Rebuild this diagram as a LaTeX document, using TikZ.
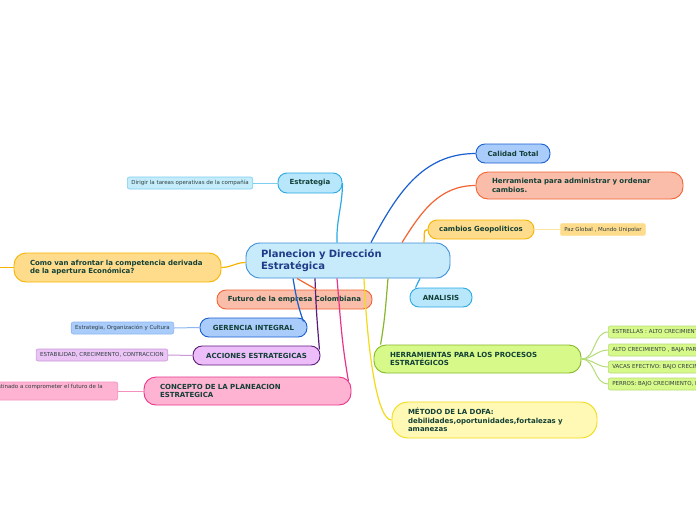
\documentclass[tikz,border=0pt]{standalone}
\usepackage{fontspec}
\setmainfont{DejaVu Sans}
\usetikzlibrary{calc}
\definecolor{txt}{HTML}{123F36}
\definecolor{ctxt}{HTML}{1F3C88}
\definecolor{leaftxt}{HTML}{2E3E40}
\definecolor{cfill}{HTML}{C8EBFB}
\definecolor{cdraw}{HTML}{3D8FD8}
\definecolor{lbfill}{HTML}{B8E6FA}
\definecolor{lbdraw}{HTML}{2AAAE6}
\definecolor{lbleaf}{HTML}{C4ECFB}
\definecolor{lblink}{HTML}{7FCDF0}
\definecolor{bfill}{HTML}{A9CCFB}
\definecolor{bdraw}{HTML}{1A5FD0}
\definecolor{blink}{HTML}{8DB6F2}
\definecolor{ofill}{HTML}{FEDC8C}
\definecolor{odraw}{HTML}{F7B500}
\definecolor{olink}{HTML}{FCE3A6}
\definecolor{sfill}{HTML}{F9BDA9}
\definecolor{sdraw}{HTML}{F26433}
\definecolor{vfill}{HTML}{EDBDF9}
\definecolor{vdraw}{HTML}{5B1C7C}
\definecolor{vleaf}{HTML}{EBC3F5}
\definecolor{vlink}{HTML}{C898D8}
\definecolor{pfill}{HTML}{FFB3D3}
\definecolor{pdraw}{HTML}{E8358A}
\definecolor{plink}{HTML}{F58FBE}
\definecolor{gfill}{HTML}{D6F989}
\definecolor{gdraw}{HTML}{86B82A}
\definecolor{glink}{HTML}{B5DC78}
\definecolor{yfill}{HTML}{FFF9B5}
\definecolor{ydraw}{HTML}{F2DB16}
\tikzset{
  mainbox/.style={draw, line width=0.9pt, inner sep=0pt, text=txt, align=center,
    font=\bfseries\fontsize{7}{8.5}\selectfont},
  leafbox/.style={draw, line width=0.6pt, rounded corners=2pt, inner xsep=4pt, inner ysep=0pt,
    minimum height=12pt, text=leaftxt, font=\fontsize{5.5}{6.5}\selectfont},
  link/.style={line width=1.2pt},
  leaflink/.style={line width=1pt},
}
\begin{document}
\begin{tikzpicture}[x=1pt,y=-1pt]
\useasboundingbox (0,0) rectangle (696,520);
\clip (0,0) rectangle (696,520);
\fill[white] (0,0) rectangle (696,520);

% central
\node[mainbox, fill=cfill, draw=cdraw, rounded corners=14pt, minimum width=204pt, minimum height=35pt,
  text width=174pt, align=left, text=ctxt, font=\bfseries\fontsize{10}{12}\selectfont]
  (c) at (348,260.5) {Planecion y Dirección\\Estratégica};

% left side
\node[mainbox, fill=lbfill, draw=lbdraw, rounded corners=9pt, minimum width=64pt, minimum height=20pt]
  (es) at (310,183) {Estrategia};
\node[leafbox, fill=lbleaf, draw=lblink, anchor=east] (dir) at (253,183)
  {Dirigir la tareas operativas de la compañía};

\node[mainbox, fill=ofill, draw=odraw, rounded corners=12pt, minimum width=207pt, minimum height=29pt,
  text width=175pt, align=left] (cv) at (117.5,267.5)
  {Como van afrontar la competencia derivada\\de la apertura Económica?};
\coordinate (cvl) at (-20,267.5);

\node[mainbox, fill=sfill, draw=sdraw, rounded corners=9pt, minimum width=155pt, minimum height=19pt]
  (fu) at (294.5,299.5) {Futuro de la empresa Colombiana};

\node[mainbox, fill=bfill, draw=bdraw, rounded corners=9pt, minimum width=107pt, minimum height=19pt]
  (g) at (253.5,327.5) {GERENCIA INTEGRAL};
\node[leafbox, fill=bfill, draw=blink, anchor=east] (gl) at (174,328)
  {Estrategia, Organización y Cultura};

\node[mainbox, fill=vfill, draw=vdraw, rounded corners=9pt, minimum width=127pt, minimum height=19pt]
  (ac) at (256.5,355.5) {ACCIONES ESTRATEGICAS};
\node[leafbox, fill=vleaf, draw=vlink, anchor=east] (acl) at (168,355)
  {ESTABILIDAD, CRECIMEENTO, CONTRACCION};

\node[mainbox, fill=pfill, draw=pdraw, rounded corners=12pt, minimum width=207pt, minimum height=28pt,
  text width=175pt, align=left] (co) at (247.5,391)
  {CONCEPTO DE LA PLANEACION\\ESTRATEGICA};
\node[leafbox, fill=pfill, draw=plink, anchor=east, minimum height=18pt, text height=3.9pt, text depth=8pt]
  (col) at (118,391) {destinado a comprometer el futuro de la\hspace*{11pt}};

% right side
\node[mainbox, fill=bfill, draw=bdraw, rounded corners=9pt, minimum width=74pt, minimum height=19pt]
  (ct) at (513,153.5) {Calidad Total};

\node[mainbox, fill=sfill, draw=sdraw, rounded corners=12pt, minimum width=207pt, minimum height=27pt,
  text width=175pt, align=left] (hr) at (579.5,185.5)
  {Herramienta para administrar y ordenar\\cambios.};

\node[mainbox, fill=ofill, draw=odraw, rounded corners=9pt, minimum width=106pt, minimum height=19pt]
  (cg) at (481,229.5) {cambios Geopoliticos};
\node[leafbox, fill=ofill, draw=olink, anchor=west] (cgl) at (560,229.5)
  {Paz Global , Mundo Unipolar};

\node[mainbox, fill=lbfill, draw=lbdraw, rounded corners=9pt, minimum width=62pt, minimum height=19pt]
  (an) at (441,297.5) {ANALISIS};

\node[mainbox, fill=gfill, draw=gdraw, rounded corners=12pt, minimum width=207pt, minimum height=28pt,
  text width=175pt, align=left] (hp) at (477.5,359)
  {HERRAMIENTAS PARA LOS PROCESOS\\ESTRATÉGICOS};
\node[leafbox, fill=gfill, draw=glink, anchor=west] (hl1) at (608,332)
  {ESTRELLAS : ALTO CRECIMIENTO, ALTA PARTICIPACION};
\node[leafbox, fill=gfill, draw=glink, anchor=west] (hl2) at (608,350)
  {ALTO CRECIMIENTO , BAJA PARTICIPACION};
\node[leafbox, fill=gfill, draw=glink, anchor=west] (hl3) at (608,367)
  {VACAS EFECTIVO: BAJO CRECIMIENTO, ALTA PARTICIPACION};
\node[leafbox, fill=gfill, draw=glink, anchor=west] (hl4) at (608,384)
  {PERROS: BAJO CRECIMIENTO, BAJA PARTICIPACION};

\node[mainbox, fill=yfill, draw=ydraw, rounded corners=16pt, minimum width=205pt, minimum height=36pt,
  text width=173pt, align=left] (m) at (494.5,420)
  {MÉTODO DE LA DOFA:\\debilidades,oportunidades,fortalezas y\\amanezas};

% main connectors
\draw[link, lbdraw] (es.east) to[out=-90,in=92] ($(c.north)+(-11,0)$);
\draw[link, bdraw] ($(c.north)+(23,0)$) to[out=62,in=180] (ct.west);
\draw[link, sdraw] ($(c.north)+(54,0)$) to[out=58,in=180] (hr.west);
\draw[link, odraw] ($(c.north)+(76,0)$) to[out=80,in=180] (cg.west);
\draw[link, lbdraw] ($(c.south)+(72,0)$) -- ($(an.north west)+(6,0)$);
\draw[link, gdraw] ($(c.south)+(40,0)$) to[out=-95,in=80] ($(hp.north west)+(7,0)$);
\draw[link, ydraw] ($(c.south)+(16,0)$) .. controls (368,360) and (378,420) .. (m.west);
\draw[link, pdraw] ($(c.south)+(-11,0)$) to[out=-85,in=100] ($(co.east)+(-3,-10)$);
\draw[link, vdraw] ($(c.south)+(-33,0)$) to[out=-88,in=95] ($(ac.east)+(-1,-6)$);
\draw[link, bdraw] ($(c.south)+(-55,0)$) to[out=-80,in=110] ($(g.east)+(-4,-6)$);
\draw[link, sdraw] ($(c.south)+(-51,0)$) -- ($(fu.north)+(22,0)$);
\draw[link, odraw] ($(c.west)+(0,2)$) to[out=180,in=0] (cv.east);
\draw[link, odraw] (cv.west) -- (cvl);

% leaf connectors
\draw[leaflink, lblink] (dir.east) -- (es.west);
\draw[leaflink, blink] (gl.east) -- (g.west);
\draw[leaflink, vlink] (acl.east) -- (ac.west);
\draw[leaflink, plink] (col.east) -- (co.west);
\draw[leaflink, olink] (cg.east) -- (cgl.west);
\draw[leaflink, glink] (hp.east) to[out=0,in=180] (hl1.west);
\draw[leaflink, glink] (hp.east) to[out=0,in=180] (hl2.west);
\draw[leaflink, glink] (hp.east) to[out=0,in=180] (hl3.west);
\draw[leaflink, glink] (hp.east) to[out=0,in=180] (hl4.west);
\end{tikzpicture}
\end{document}
